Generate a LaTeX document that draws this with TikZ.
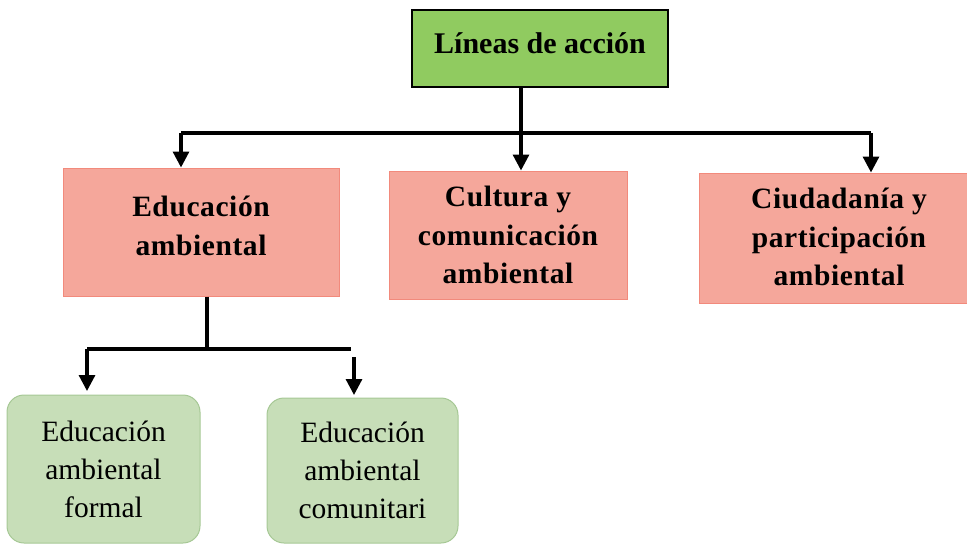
\documentclass[tikz,border=0pt]{standalone}
\usepackage{fontspec}
\setmainfont{Liberation Serif}
\usetikzlibrary{arrows.meta}
\definecolor{titlegreen}{HTML}{90CB60}
\definecolor{pinkfill}{HTML}{F5A79B}
\definecolor{pinkline}{HTML}{F28A7C}
\definecolor{lightgreen}{HTML}{C7DEB8}
\definecolor{greenline}{HTML}{A6C895}
\begin{document}
\begin{tikzpicture}[x=1pt,y=-1pt,
  titlebox/.style={draw=black,line width=2pt,fill=titlegreen,minimum width=256pt,minimum height=77pt,inner sep=0pt},
  titletext/.style={font=\fontsize{30}{36}\selectfont\bfseries,inner sep=0pt},
  pinkbox/.style={draw=pinkline,line width=1pt,fill=pinkfill,minimum height=128pt,inner sep=0pt},
  pinktext/.style={align=center,inner sep=0pt,font=\fontsize{29.5}{38.5}\selectfont\bfseries\addfontfeatures{LetterSpace=2}},
  greenbox/.style={draw=greenline,line width=1pt,fill=lightgreen,rounded corners=17pt,inner sep=0pt,
    align=center,font=\fontsize{29.5}{38}\selectfont},
  conn/.style={line width=3.2pt,draw=black},
  arr/.style={conn,-{Triangle[width=16pt,length=16pt]}}]
\useasboundingbox (0,0) rectangle (967,544);
\node[titlebox] (title) at (540,48.5) {};
\node[titletext] (titlet) at (540,43) {Líneas de acción};
\node[pinkbox,minimum width=276pt] (p1) at (201,232) {};
\node[pinktext] (p1t) at (201,226) {Educación\\ambiental};
\node[pinkbox,minimum width=238pt] (p2) at (508,235) {};
\node[pinktext] (p2t) at (508,235) {Cultura y\\comunicación\\ambiental};
\node[pinkbox,minimum width=280pt,minimum height=130pt] (p3) at (839,238) {};
\node[pinktext] (p3t) at (839,237) {Ciudadanía y\\participación\\ambiental};
\node[greenbox,minimum width=193pt,minimum height=148pt] (g1) at (103.5,469) {Educación\\ambiental\\formal};
\node[greenbox,minimum width=191pt,minimum height=145pt] (g2) at (362.5,470.5) {Educación\\ambiental\\comunitari};
% top bus
\coordinate (bus) at (521,133);
\coordinate (busL) at (181,133);
\coordinate (busR) at (871,133);
\draw[conn] (title.south -| bus) -- (bus);
\draw[conn] (busL) -- (busR);
\draw[arr] (busL) -- (busL |- p1.north);
\draw[arr] (bus) -- (bus |- p2.north);
\draw[arr] (busR) -- (busR |- p3.north);
% lower bus
\coordinate (lb) at (207,349);
\coordinate (lbL) at (87,349);
\coordinate (lbR) at (351,349);
\coordinate (r2) at (354,357);
\coordinate (t1) at (87,391);
\coordinate (t2) at (354,395);
\draw[conn] (p1.south -| lb) -- (lb);
\draw[conn] (lbL) -- (lbR);
\draw[arr] (lbL) -- (t1);
\draw[arr] (r2) -- (t2);
\end{tikzpicture}
\end{document}
